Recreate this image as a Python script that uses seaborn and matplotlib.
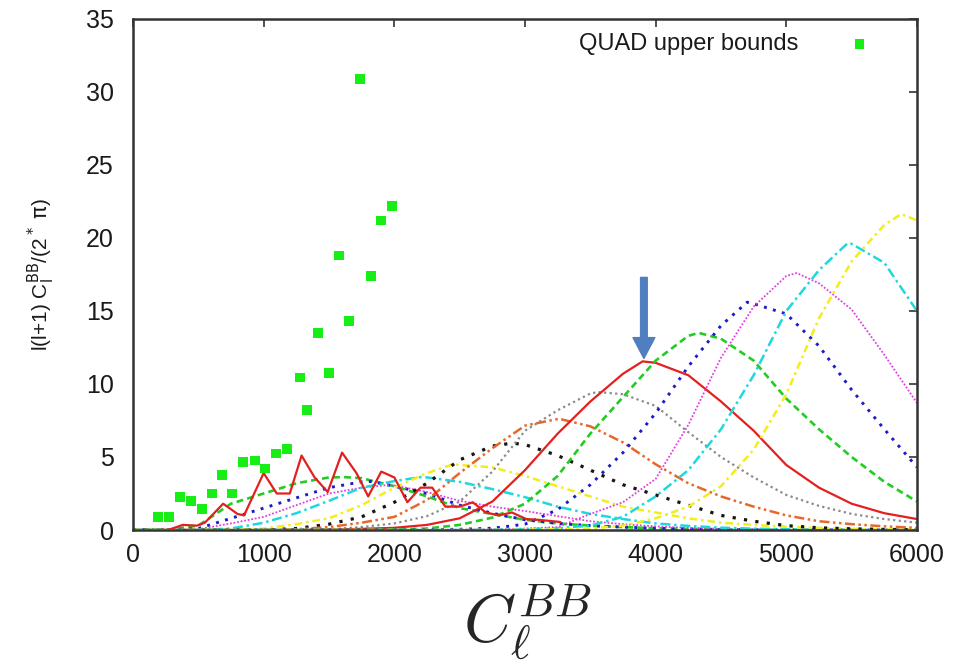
import numpy as np
import pandas as pd
import matplotlib
matplotlib.use("Agg")
import matplotlib.pyplot as plt
import seaborn as sns

# ---------------- data ----------------
ELL = [0, 250, 500, 750, 1000, 1250, 1500, 1750, 2000, 2250, 2500, 2750, 3000,
       3250, 3500, 3750, 4000, 4250, 4500, 4750, 5000, 5250, 5500, 5750, 6000]

green1 = [0, 0, 0.3, 1.8, 2.5, 3.2, 3.6, 3.55, 3.0, 2.3, 1.5, 1.1, 0.7,
          0.45, 0.3, 0.2, 0.12, 0.07, 0.04, 0.02, 0.01, 0, 0, 0, 0]
blue1 = [0, 0, 0.1, 0.8, 1.5, 2.2, 2.9, 3.3, 3.0, 2.5, 1.7, 1.15, 0.7,
         0.45, 0.3, 0.2, 0.12, 0.07, 0.04, 0.02, 0.01, 0, 0, 0, 0]
magenta1 = [0, 0, 0.05, 0.45, 0.9, 1.7, 2.5, 2.9, 3.05, 2.6, 2.0, 1.6, 1.3,
            0.95, 0.6, 0.4, 0.25, 0.15, 0.08, 0.04, 0.02, 0.01, 0, 0, 0]
cyan1 = [0, 0, 0, 0.1, 0.5, 1.15, 2.0, 2.9, 3.35, 3.6, 3.3, 2.8, 2.25,
         1.6, 1.1, 0.75, 0.45, 0.28, 0.16, 0.09, 0.05, 0.03, 0.01, 0, 0]
yellow1 = [0, 0, 0, 0, 0.1, 0.4, 0.8, 1.7, 2.9, 3.9, 4.45, 4.3, 3.7,
           3.0, 2.3, 1.6, 1.2, 0.8, 0.5, 0.35, 0.22, 0.14, 0.08, 0.05, 0.03]
black1 = [0, 0, 0, 0, 0, 0.1, 0.4, 0.9, 1.9, 3.2, 4.8, 5.75, 5.85,
          5.1, 4.1, 3.1, 2.4, 1.7, 1.0, 0.6, 0.3, 0.15, 0.08, 0.04, 0.02]
orange1 = [0, 0, 0, 0, 0, 0.05, 0.2, 0.5, 0.9, 2.05, 3.9, 5.6, 7.15,
           7.6, 7.1, 6.0, 4.5, 3.2, 2.3, 1.6, 1.0, 0.6, 0.4, 0.25, 0.15]
gray1 = [0, 0, 0, 0, 0, 0, 0.05, 0.2, 0.45, 0.95, 1.95, 4.0, 6.8,
         8.2, 9.35, 9.3, 8.5, 6.7, 5.0, 3.6, 2.4, 1.65, 1.1, 0.75, 0.5]
red1 = [0, 0, 0, 0, 0, 0, 0.03, 0.08, 0.15, 0.35, 0.8, 1.95, 4.1,
        6.6, 8.8, 10.7, 11.45, 10.6, 8.8, 6.8, 4.45, 2.9, 1.8, 1.15, 0.75]
green2 = [0, 0, 0, 0, 0, 0, 0, 0, 0.03, 0.1, 0.35, 0.85, 1.8,
          3.7, 6.6, 9.1, 11.6, 13.3, 13.1, 11.6, 9.0, 6.9, 5.0, 3.3, 1.95]
blue2 = [0, 0, 0, 0, 0, 0, 0, 0, 0, 0.02, 0.05, 0.12, 0.4,
         1.4, 3.1, 5.3, 8.0, 11.2, 14.0, 15.5, 14.8, 12.6, 9.6, 6.9, 4.3]
magenta2 = [0, 0, 0, 0, 0, 0, 0, 0, 0, 0, 0.02, 0.05, 0.1,
            0.2, 1.1, 1.9, 3.5, 7.2, 11.8, 15.3, 17.4, 16.9, 15.1, 12.0, 8.7]
cyan2 = [0, 0, 0, 0, 0, 0, 0, 0, 0, 0, 0, 0.02, 0.05,
         0.12, 0.3, 0.9, 2.3, 4.1, 6.9, 10.6, 15.0, 17.8, 19.6, 18.3, 15.0]
yellow2 = [0, 0, 0, 0, 0, 0, 0, 0, 0, 0, 0, 0, 0.02,
           0.05, 0.1, 0.3, 0.8, 1.6, 3.0, 5.5, 9.3, 14.5, 18.4, 20.9, 21.2]

# peak positions (ell, value) for each curve
peak_ell = [1620, 1820, 1950, 2200, 2450, 2900, 3260, 3560, 3900, 4330, 4700, 5080, 5470, 5880]
peak_val = [3.62, 3.32, 3.08, 3.62, 4.5, 5.95, 7.62, 9.45, 11.55, 13.5, 15.6, 17.6, 19.65, 21.65]

# binned data line (red, jagged)
data_ell = [200, 270, 380, 490, 550, 690, 800, 850, 1000, 1100, 1200, 1290, 1390,
            1490, 1600, 1710, 1800, 1900, 2000, 2100, 2200, 2290, 2390, 2500,
            2600, 2700, 2800, 2900, 3010, 3100, 3270]
data_val = [0.0, 0.0, 0.35, 0.3, 0.5, 1.8, 1.1, 1.0, 3.9, 2.5, 2.5, 5.1, 3.6,
            2.6, 5.3, 3.9, 2.3, 4.0, 3.6, 1.9, 2.9, 2.9, 1.6, 1.6,
            1.9, 1.2, 1.0, 1.2, 0.75, 0.7, 0.55]

# QUAD upper bounds
quad_ell = [190, 275, 360, 445, 530, 605, 680, 760, 840, 935, 1010, 1095, 1180,
            1280, 1330, 1415, 1500, 1575, 1655, 1735, 1820, 1900, 1980]
quad_val = [0.9, 0.9, 2.25, 2.0, 1.45, 2.5, 3.75, 2.5, 4.65, 4.75, 4.2, 5.25, 5.55,
            10.45, 8.2, 13.5, 10.75, 18.8, 14.3, 30.9, 17.4, 21.2, 22.2]

x_ticks = [0, 1000, 2000, 3000, 4000, 5000, 6000]
y_ticks = [0, 5, 10, 15, 20, 25, 30, 35]

curve_vals = [green1, blue1, magenta1, cyan1, yellow1, black1, orange1, gray1,
              red1, green2, blue2, magenta2, cyan2, yellow2]
curve_styles = [
    ("#22cc22", (0, (2.6, 1.6)), 1.9),
    ("#1c1cc8", (0, (1, 2.2)), 2.1),
    ("#e040e0", (0, (1, 1)), 1.3),
    ("#1ed8e0", (0, (4, 1.5, 1, 1.5)), 1.8),
    ("#f2ee1a", (0, (3, 1.6, 1, 1.6)), 1.8),
    ("#151515", (0, (1, 2.6)), 2.3),
    ("#e8672a", (0, (4, 1.4, 1, 1.4, 1, 1.4)), 1.8),
    ("#8a8a8a", (0, (1, 1.5)), 1.6),
    ("#e3201f", "-", 1.6),
    ("#22cc22", (0, (2.6, 1.6)), 1.9),
    ("#1c1cc8", (0, (1, 2.2)), 2.1),
    ("#e040e0", (0, (1, 1)), 1.3),
    ("#1ed8e0", (0, (4, 1.5, 1, 1.5)), 1.8),
    ("#f2ee1a", (0, (3, 1.6, 1, 1.6)), 1.8),
]

# ---------------- style ----------------
sns.set_style("white")
plt.rcParams["font.family"] = ["Liberation Sans", "DejaVu Sans"]

fig = plt.figure(figsize=(9.59, 6.6), dpi=100)
ax = fig.add_axes([133 / 959, 1 - 530 / 660, (917 - 133) / 959, (530 - 19) / 660])

for vals, (col, ls, lw), pe, pv in zip(curve_vals, curve_styles, peak_ell, peak_val):
    df = pd.DataFrame({"ell": ELL + [pe], "val": vals + [pv]}).sort_values("ell")
    sns.lineplot(data=df, x="ell", y="val", ax=ax, color=col, linestyle=ls,
                 linewidth=lw, sort=False, zorder=2)

dfd = pd.DataFrame({"ell": data_ell, "val": data_val})
sns.lineplot(data=dfd, x="ell", y="val", ax=ax, color="#e3201f", linewidth=1.6,
             sort=False, zorder=3)

dfq = pd.DataFrame({"ell": quad_ell, "val": quad_val})
sns.scatterplot(data=dfq, x="ell", y="val", ax=ax, marker="s", s=48,
                color="#16ee16", edgecolor="none", linewidth=0, zorder=4,
                label="QUAD upper bounds")

# arrow
ax.annotate("", xy=(3910, 11.75), xytext=(3910, 17.3),
            arrowprops=dict(arrowstyle="simple,head_length=1.0,head_width=1.05,tail_width=0.32",
                            color="#4f7fbf", mutation_scale=15, shrinkA=0, shrinkB=0),
            zorder=5)

ax.set_xlim(0, 6000)
ax.set_ylim(0, 35)
ax.set_xticks(x_ticks)
ax.set_yticks(y_ticks)
ax.tick_params(axis="both", which="both", direction="in", length=6, width=1.2,
               color="#333333", labelsize=18, top=True, right=True,
               labelcolor="#1a1a1a")
ax.tick_params(axis="x", pad=9)
ax.tick_params(axis="y", pad=14)
for sp in ax.spines.values():
    sp.set_visible(True)
    sp.set_linewidth(1.8)
    sp.set_color("#333333")

ax.set_ylabel(r"l(l+1) C$_\mathrm{l}^\mathrm{BB}$/(2$^*$ $\mathrm{\pi}$)", fontsize=15,
              color="#1a1a1a")
ax.yaxis.set_label_coords(-0.097, 0.5)

fig.text(527 / 959, 1 - 622 / 660, r"$C_\ell^{BB}$", fontsize=48,
         ha="center", va="center", math_fontfamily="cm")
ax.set_xlabel("")

leg = ax.legend(loc="upper right", frameon=False, markerfirst=False,
                handletextpad=1.6, borderaxespad=0.2, bbox_to_anchor=(0.975, 1.0),
                prop={"family": ["Liberation Sans", "DejaVu Sans"], "size": 17})
for t in leg.get_texts():
    t.set_color("#1a1a1a")

fig.savefig("out.png", dpi=100)
